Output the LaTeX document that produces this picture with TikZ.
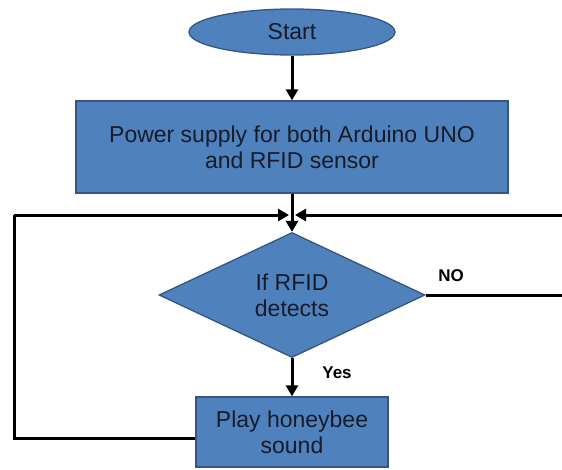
\documentclass[tikz,border=0pt]{standalone}
\usepackage{fontspec}
\setmainfont{Liberation Sans}
\usetikzlibrary{shapes.geometric,arrows.meta}
\definecolor{boxfill}{RGB}{79,129,189}
\definecolor{boxline}{RGB}{52,86,130}
\definecolor{boxtext}{RGB}{22,28,42}
\tikzset{
  block/.style={draw=boxline, fill=boxfill, line width=1.3pt, text=boxtext,
    font=\fontsize{23}{26}\selectfont, align=center, inner sep=0pt},
  startbox/.style={block, ellipse, minimum width=206pt, minimum height=46pt},
  procbox/.style={block, rectangle},
  decbox/.style={block, diamond, minimum width=266pt, minimum height=125pt, shape aspect=2.1},
  flow/.style={line width=3pt, -{Triangle[length=11pt,width=12pt]}},
  link/.style={line width=3pt},
  tag/.style={font=\bfseries\fontsize{17}{20}\selectfont, text=black}
}
\begin{document}
\begin{tikzpicture}[x=1pt,y=-1pt]
  \useasboundingbox (0,0) rectangle (562,469);

  % process nodes
  \node[startbox] (start) at (292,32) {Start};
  \node[procbox, minimum width=432pt, minimum height=92pt] (power) at (292,147)
    {Power supply for both Arduino UNO\\and RFID sensor};
  \node[decbox] (check) at (292,295) {If RFID\\detects};
  \node[procbox, minimum width=192pt, minimum height=70pt] (play) at (292,432)
    {Play honeybee\\sound};

  % loop routing points
  \coordinate (joinL) at (289,215);
  \coordinate (joinR) at (295,215);
  \coordinate (leftTop) at (14,215);
  \coordinate (leftBot) at (14,438);
  \coordinate (rightLow) at (567,295);
  \coordinate (rightTop) at (567,215);

  % main flow
  \draw[flow] (start) -- (power);
  \draw[flow] (power) -- (check);
  \draw[flow] (check) -- (play);

  % return paths into the junction
  \draw[link] (play.west |- leftBot) -- (leftBot) -- (leftTop);
  \draw[flow] (leftTop) -- (joinL);
  \draw[link] (check.east) -- (rightLow) -- (rightTop);
  \draw[flow] (rightTop) -- (joinR);

  % branch labels
  \node[tag] (yes) at (337,373) {Yes};
  \node[tag] (no) at (451,276) {NO};
\end{tikzpicture}
\end{document}
